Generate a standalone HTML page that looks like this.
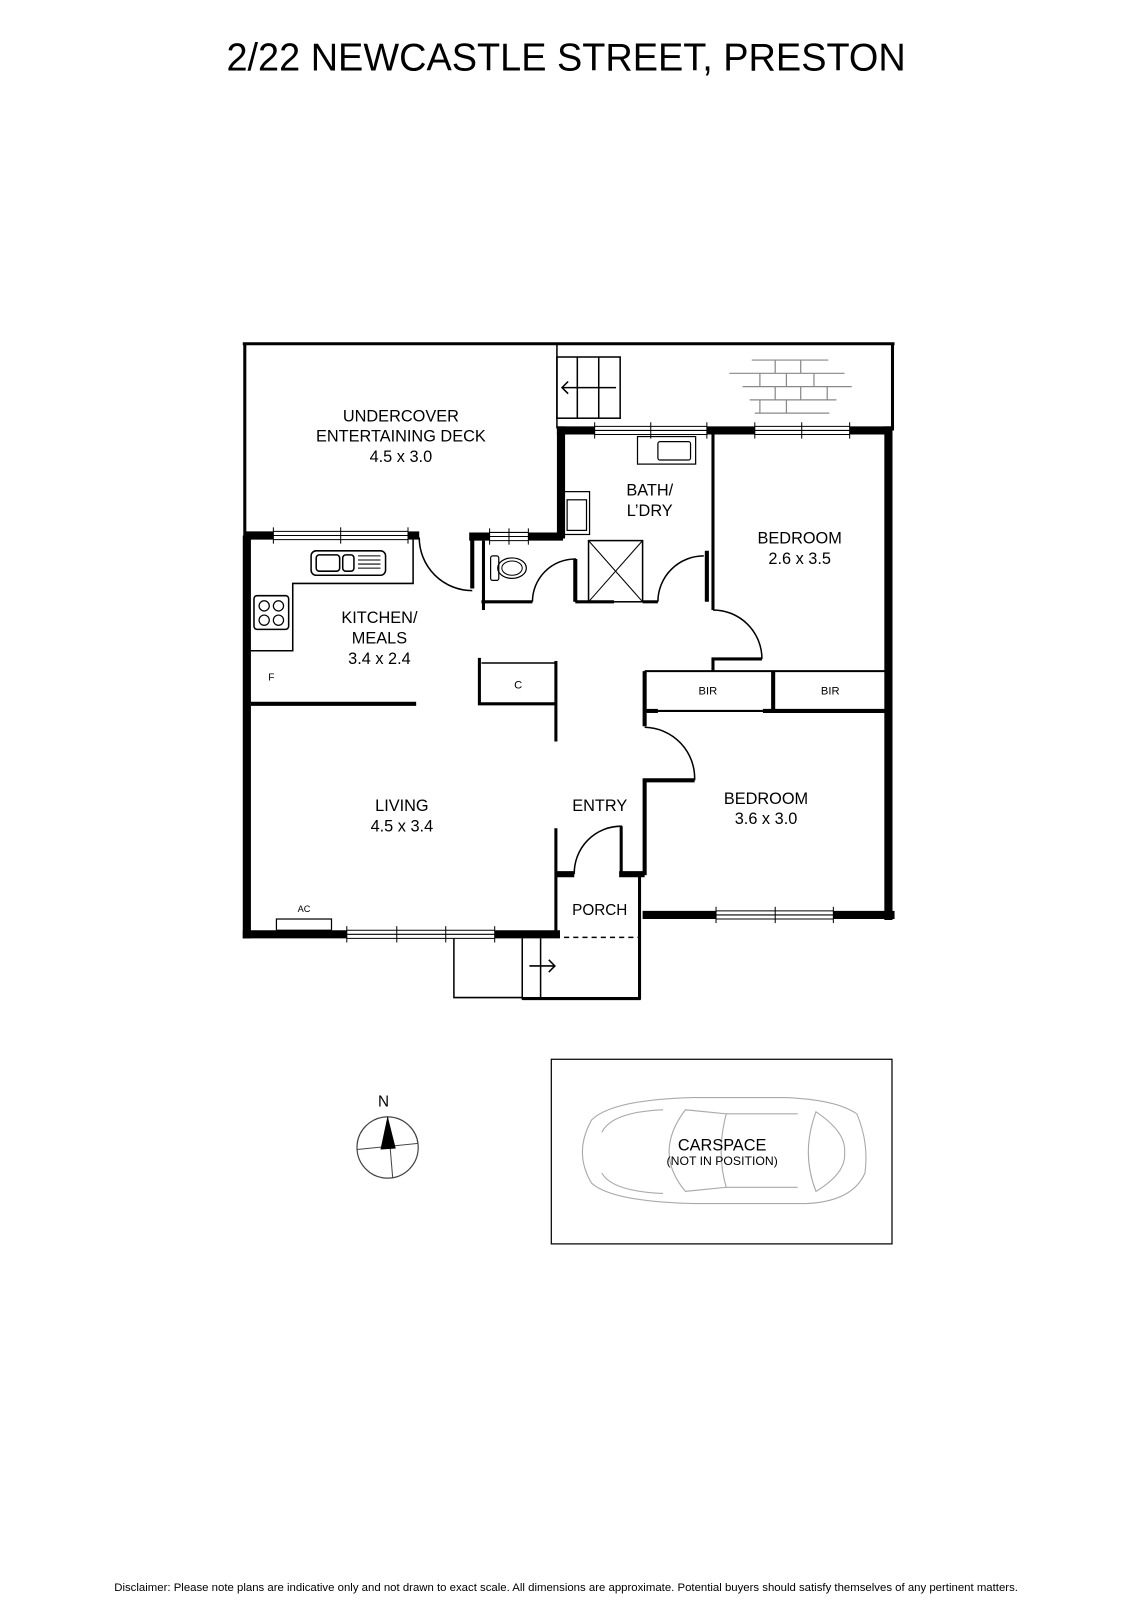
<!DOCTYPE html>
<html><head><meta charset="utf-8"><style>
html,body{margin:0;padding:0;background:#fff;}
svg{display:block;font-family:"Liberation Sans",Arial,sans-serif;}
</style></head><body>
<svg width="1132" height="1600" viewBox="0 0 1132 1600" xmlns="http://www.w3.org/2000/svg">
<rect width="1132" height="1600" fill="#fff"/>
<g transform="scale(1.02)">
<text x="555" y="69" font-size="38" text-anchor="middle" textLength="666" lengthAdjust="spacingAndGlyphs">2/22 NEWCASTLE STREET, PRESTON</text>

<g stroke="#000" fill="none">
<line x1="238" y1="337" x2="877" y2="337" stroke-width="3"/>
<line x1="240" y1="337" x2="240" y2="527" stroke-width="3"/>
<line x1="875" y1="337" x2="875" y2="422" stroke-width="3"/>
<line x1="546" y1="337" x2="546" y2="420" stroke-width="1.5"/>
<line x1="242" y1="525" x2="242" y2="920" stroke-width="8"/>
<line x1="871" y1="418" x2="871" y2="902" stroke-width="8"/>
<line x1="550" y1="418" x2="550" y2="528" stroke-width="8"/>
<line x1="546" y1="422" x2="583" y2="422" stroke-width="8"/>
<line x1="693" y1="422" x2="740" y2="422" stroke-width="8"/>
<line x1="833" y1="422" x2="875" y2="422" stroke-width="8"/>
<g stroke-width="1"><line x1="583" y1="418" x2="693" y2="418"/><line x1="583" y1="422" x2="693" y2="422"/><line x1="583" y1="426" x2="693" y2="426"/><line x1="583" y1="414" x2="583" y2="430"/><line x1="638" y1="414" x2="638" y2="430"/><line x1="693" y1="414" x2="693" y2="430"/>
<line x1="740" y1="418" x2="833" y2="418"/><line x1="740" y1="422" x2="833" y2="422"/><line x1="740" y1="426" x2="833" y2="426"/><line x1="740" y1="414" x2="740" y2="430"/><line x1="786" y1="414" x2="786" y2="430"/><line x1="833" y1="414" x2="833" y2="430"/></g>
<g stroke-width="1.5"><rect x="546" y="350" width="62" height="60"/><line x1="566" y1="350" x2="566" y2="410"/><line x1="587" y1="350" x2="587" y2="410"/><line x1="551" y1="380" x2="604" y2="380"/><polyline points="557,374 551,380 557,386"/></g>
<g stroke="#888" stroke-width="1.2">
<line x1="737" y1="353" x2="812" y2="353"/><line x1="715" y1="366" x2="828" y2="366"/><line x1="728" y1="379" x2="835" y2="379"/><line x1="735" y1="392" x2="820" y2="392"/><line x1="740" y1="405" x2="813" y2="405"/>
<line x1="760" y1="353" x2="760" y2="366"/><line x1="785" y1="353" x2="785" y2="366"/><line x1="745" y1="366" x2="745" y2="379"/><line x1="771" y1="366" x2="771" y2="379"/><line x1="798" y1="366" x2="798" y2="379"/><line x1="760" y1="379" x2="760" y2="392"/><line x1="785" y1="379" x2="785" y2="392"/><line x1="811" y1="379" x2="811" y2="392"/><line x1="745" y1="392" x2="745" y2="405"/><line x1="771" y1="392" x2="771" y2="405"/></g>
<line x1="240" y1="525" x2="268" y2="525" stroke-width="8"/>
<line x1="400" y1="525" x2="411" y2="525" stroke-width="8"/>
<g stroke-width="1"><line x1="268" y1="521" x2="400" y2="521"/><line x1="268" y1="525" x2="400" y2="525"/><line x1="268" y1="529" x2="400" y2="529"/><line x1="268" y1="517" x2="268" y2="533"/><line x1="334" y1="517" x2="334" y2="533"/><line x1="400" y1="517" x2="400" y2="533"/></g>
<path d="M411 527 A52 52 0 0 0 463 579" stroke-width="1.5"/>
<line x1="460" y1="526" x2="480" y2="526" stroke-width="8"/>
<line x1="518" y1="526" x2="552" y2="526" stroke-width="8"/>
<g stroke-width="1"><line x1="480" y1="522" x2="518" y2="522"/><line x1="480" y1="526" x2="518" y2="526"/><line x1="480" y1="530" x2="518" y2="530"/><line x1="480" y1="518" x2="480" y2="534"/><line x1="499" y1="518" x2="499" y2="534"/><line x1="518" y1="518" x2="518" y2="534"/></g>
<line x1="463" y1="526" x2="463" y2="577" stroke-width="4"/>
<line x1="474" y1="530" x2="474" y2="598" stroke-width="3"/>
<line x1="472" y1="590" x2="522" y2="590" stroke-width="3"/>
<path d="M522 590 A42 42 0 0 1 564 548 L564 590" stroke-width="1.5"/>
<line x1="564" y1="548" x2="564" y2="590" stroke-width="4"/>
<rect x="481" y="545" width="8" height="24" rx="2" stroke-width="1.2"/>
<ellipse cx="502" cy="557" rx="14" ry="10" stroke-width="1.2"/><ellipse cx="502" cy="557" rx="10" ry="7" stroke-width="1"/>
<line x1="564" y1="590" x2="602" y2="590" stroke-width="3"/>
<rect x="577" y="530" width="53" height="60" stroke-width="1.5"/>
<line x1="577" y1="530" x2="630" y2="590" stroke-width="1"/><line x1="630" y1="530" x2="577" y2="590" stroke-width="1"/>
<line x1="630" y1="590" x2="645" y2="590" stroke-width="3"/>
<path d="M645 590 A45 45 0 0 1 690 545" stroke-width="1.5"/>
<line x1="693" y1="540" x2="693" y2="590" stroke-width="4"/>
<line x1="699" y1="420" x2="699" y2="598" stroke-width="3"/>
<rect x="625" y="428" width="57" height="27" stroke-width="1.2"/><rect x="645" y="433" width="32" height="18" rx="2" stroke-width="1.2"/>
<rect x="553" y="482" width="25" height="42" stroke-width="1.2"/><rect x="556" y="490" width="19" height="30" stroke-width="1.2"/>
<path d="M699 598 A48 48 0 0 1 747 646" stroke-width="1.5"/>
<polyline points="747,646 699,646 699,658" stroke-width="3"/>
<g stroke-width="1.5"><polyline points="405,527 405,572 287,572 287,638 246,638"/>
<rect x="305" y="540" width="73" height="24" rx="5"/><rect x="310" y="544" width="23" height="16" rx="3"/><rect x="336" y="544" width="11" height="16" rx="3"/>
<g stroke-width="1"><line x1="351" y1="545" x2="373" y2="545"/><line x1="351" y1="549" x2="373" y2="549"/><line x1="351" y1="553" x2="373" y2="553"/><line x1="351" y1="557" x2="373" y2="557"/></g>
<rect x="249" y="584" width="34" height="33" rx="3"/></g>
<g stroke-width="1.2"><circle cx="259" cy="594" r="5"/><circle cx="273" cy="594" r="5"/><circle cx="259" cy="608" r="5"/><circle cx="273" cy="608" r="5"/></g>
<line x1="246" y1="690" x2="408" y2="690" stroke-width="4"/>
<polyline points="470,645 470,690 545,690" stroke-width="3"/>
<line x1="472" y1="650" x2="545" y2="650" stroke-width="1.5"/>
<line x1="545" y1="648" x2="545" y2="727" stroke-width="3"/>
<line x1="632" y1="658" x2="872" y2="658" stroke-width="2"/>
<line x1="632" y1="658" x2="632" y2="712" stroke-width="4"/>
<line x1="758" y1="658" x2="758" y2="697" stroke-width="4"/>
<line x1="632" y1="697" x2="872" y2="697" stroke-width="2"/>
<line x1="634" y1="697" x2="645" y2="697" stroke-width="4"/><line x1="748" y1="697" x2="872" y2="697" stroke-width="4"/>
<path d="M632 713 A50 50 0 0 1 681 765" stroke-width="1.5"/>
<polyline points="681,765 632,765 632,858" stroke-width="4"/>
<line x1="545" y1="812" x2="545" y2="918" stroke-width="3"/>
<line x1="545" y1="857" x2="563" y2="857" stroke-width="6"/>
<path d="M563 857 A46 46 0 0 1 609 810 L609 857" stroke-width="1.5"/>
<line x1="609" y1="810" x2="609" y2="857" stroke-width="3"/>
<line x1="607" y1="857" x2="632" y2="857" stroke-width="6"/>
<line x1="627" y1="857" x2="627" y2="980" stroke-width="3"/>
<line x1="553" y1="919" x2="627" y2="919" stroke-width="1.5" stroke-dasharray="5,4"/>
<line x1="630" y1="897" x2="702" y2="897" stroke-width="8"/><line x1="817" y1="897" x2="877" y2="897" stroke-width="8"/>
<g stroke-width="1"><line x1="702" y1="893" x2="817" y2="893"/><line x1="702" y1="897" x2="817" y2="897"/><line x1="702" y1="901" x2="817" y2="901"/><line x1="702" y1="889" x2="702" y2="905"/><line x1="760" y1="889" x2="760" y2="905"/><line x1="817" y1="889" x2="817" y2="905"/></g>
<line x1="238" y1="916" x2="340" y2="916" stroke-width="8"/><line x1="485" y1="916" x2="549" y2="916" stroke-width="8"/>
<g stroke-width="1"><line x1="340" y1="912" x2="485" y2="912"/><line x1="340" y1="916" x2="485" y2="916"/><line x1="340" y1="920" x2="485" y2="920"/><line x1="340" y1="908" x2="340" y2="924"/><line x1="389" y1="908" x2="389" y2="924"/><line x1="437" y1="908" x2="437" y2="924"/><line x1="485" y1="908" x2="485" y2="924"/></g>
<rect x="271" y="901" width="54" height="11" stroke-width="1.2"/>
<g stroke-width="1.5"><polyline points="445,920 445,978 512,978"/><line x1="512" y1="920" x2="512" y2="980"/><line x1="530" y1="920" x2="530" y2="978"/><line x1="512" y1="979" x2="628" y2="979" stroke-width="3"/>
<line x1="519" y1="947" x2="544" y2="947"/><polyline points="538,941 544,947 538,953"/></g>
<rect x="540.5" y="1038.5" width="334" height="181" stroke-width="1.2"/>
<g stroke="#aaa" stroke-width="1.1">
<path d="M580 1098 Q600 1078 680 1076 L770 1076 Q820 1078 840 1092 Q852 1120 848 1150 Q836 1178 790 1180 L680 1180 Q600 1178 580 1160 Q562 1130 580 1098 Z"/>
<path d="M590 1110 Q600 1090 650 1088 M590 1150 Q600 1168 650 1170"/>
<path d="M672 1088 Q640 1130 672 1168 L712 1164 Q702 1130 712 1092 Z"/>
<path d="M800 1090 Q830 1110 828 1130 Q830 1150 800 1168 Q785 1130 800 1090 Z"/>
<line x1="712" y1="1092" x2="782" y2="1092"/><line x1="712" y1="1164" x2="782" y2="1164"/>
</g>
<circle cx="380" cy="1125" r="30" stroke="#444" stroke-width="1.2"/>
<line x1="350" y1="1127" x2="410" y2="1121" stroke="#444" stroke-width="1"/>
<line x1="385" y1="1155" x2="380" y2="1095" stroke="#444" stroke-width="1"/>
</g>
<polygon points="380,1094 373,1127 388,1126" fill="#000"/>

<g font-size="16" text-anchor="middle" fill="#000">
<text x="393" y="413">UNDERCOVER</text><text x="393" y="433">ENTERTAINING DECK</text><text x="393" y="453">4.5 x 3.0</text>
<text x="637" y="486">BATH/</text><text x="637" y="506">L’DRY</text>
<text x="784" y="533">BEDROOM</text><text x="784" y="553">2.6 x 3.5</text>
<text x="372" y="611">KITCHEN/</text><text x="372" y="631">MEALS</text><text x="372" y="651">3.4 x 2.4</text>
<text x="394" y="795">LIVING</text><text x="394" y="815">4.5 x 3.4</text>
<text x="588" y="795">ENTRY</text>
<text x="751" y="788">BEDROOM</text><text x="751" y="808">3.6 x 3.0</text>
<text x="588" y="897" font-size="15">PORCH</text>
<text x="708" y="1128">CARSPACE</text>
<text x="376" y="1085" font-size="15">N</text>
</g>
<g font-size="11" text-anchor="middle">
<text x="508" y="675">C</text><text x="694" y="681">BIR</text><text x="814" y="681">BIR</text><text x="708" y="1142" font-size="12">(NOT IN POSITION)</text>
<text x="266" y="667" font-size="10">F</text><text x="298" y="894" font-size="9">AC</text>
</g>
<text x="555" y="1560" font-size="10.5" text-anchor="middle" textLength="886" lengthAdjust="spacingAndGlyphs">Disclaimer: Please note plans are indicative only and not drawn to exact scale. All dimensions are approximate. Potential buyers should satisfy themselves of any pertinent matters.</text>
</g>
</svg>
</body></html>
